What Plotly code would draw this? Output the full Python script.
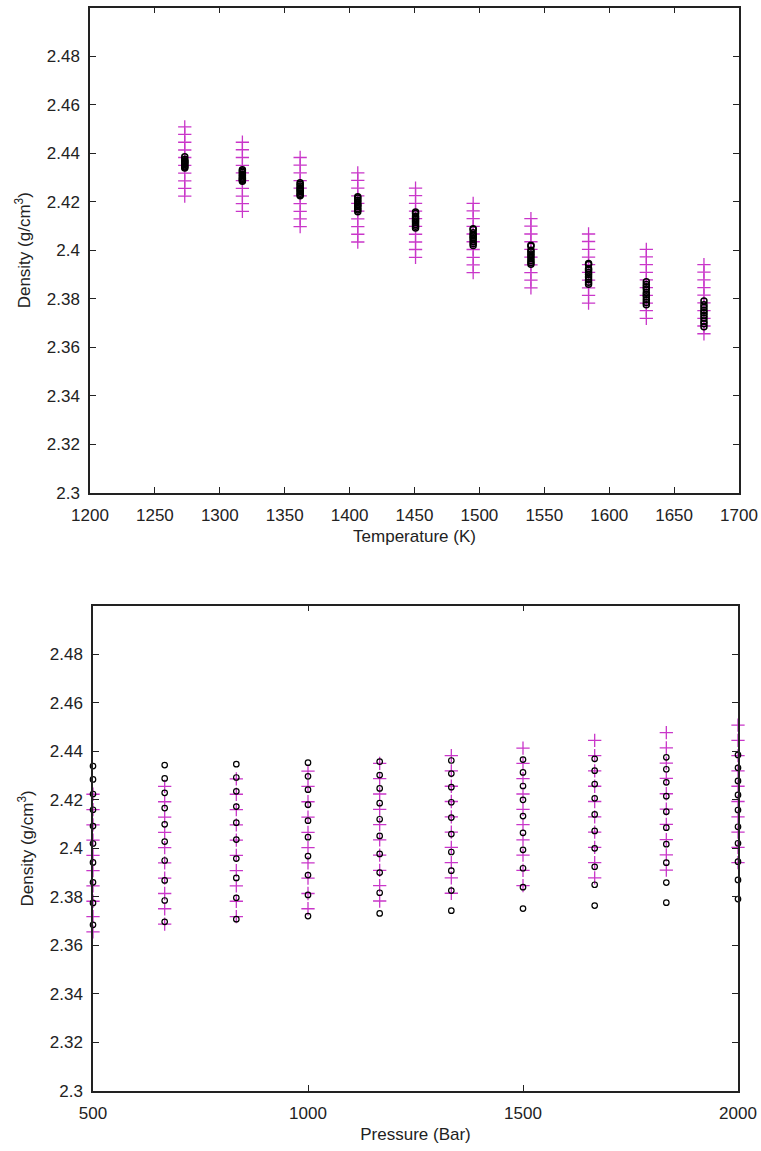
import plotly.graph_objects as go

# ---------------- data ----------------
temperature_K = [1273, 1317.4, 1361.9, 1406.3, 1450.8, 1495.2, 1539.7, 1584.1, 1628.6, 1673]
pressure_bar = [500, 666.7, 833.3, 1000, 1166.7, 1333.3, 1500, 1666.7, 1833.3, 2000]

# measured/calculated density (black circles): rows = temperature, columns = pressure
density_black = [
    [2.4339, 2.4343, 2.4347, 2.4353, 2.4357, 2.4362, 2.4366, 2.4369, 2.4375, 2.4385],
    [2.4284, 2.4288, 2.4292, 2.4297, 2.4302, 2.4308, 2.4313, 2.4320, 2.4326, 2.4332],
    [2.4224, 2.4229, 2.4235, 2.4242, 2.4247, 2.4252, 2.4257, 2.4265, 2.4272, 2.4278],
    [2.4159, 2.4166, 2.4172, 2.4180, 2.4186, 2.4190, 2.4200, 2.4206, 2.4215, 2.4220],
    [2.4092, 2.4099, 2.4106, 2.4114, 2.4120, 2.4127, 2.4133, 2.4140, 2.4151, 2.4158],
    [2.4020, 2.4028, 2.4036, 2.4046, 2.4051, 2.4059, 2.4064, 2.4072, 2.4085, 2.4089],
    [2.3942, 2.3950, 2.3958, 2.3968, 2.3977, 2.3985, 2.3994, 2.4000, 2.4017, 2.4021],
    [2.3860, 2.3868, 2.3878, 2.3890, 2.3900, 2.3908, 2.3918, 2.3924, 2.3941, 2.3945],
    [2.3775, 2.3785, 2.3796, 2.3808, 2.3817, 2.3826, 2.3840, 2.3850, 2.3859, 2.3870],
    [2.3685, 2.3697, 2.3708, 2.3721, 2.3732, 2.3743, 2.3752, 2.3764, 2.3776, 2.3791],
]

# model density (magenta crosses): rows = temperature, columns = pressure
density_magenta = [
    [2.4223, 2.4255, 2.4286, 2.4318, 2.4350, 2.4382, 2.4413, 2.4445, 2.4477, 2.4508],
    [2.4160, 2.4192, 2.4223, 2.4255, 2.4287, 2.4319, 2.4350, 2.4382, 2.4414, 2.4445],
    [2.4097, 2.4129, 2.4160, 2.4192, 2.4224, 2.4256, 2.4287, 2.4319, 2.4351, 2.4382],
    [2.4034, 2.4066, 2.4097, 2.4129, 2.4161, 2.4193, 2.4224, 2.4256, 2.4288, 2.4319],
    [2.3971, 2.4003, 2.4034, 2.4066, 2.4098, 2.4130, 2.4161, 2.4193, 2.4225, 2.4256],
    [2.3908, 2.3940, 2.3971, 2.4003, 2.4035, 2.4067, 2.4098, 2.4130, 2.4162, 2.4193],
    [2.3845, 2.3877, 2.3908, 2.3940, 2.3972, 2.4004, 2.4035, 2.4067, 2.4099, 2.4130],
    [2.3782, 2.3814, 2.3845, 2.3877, 2.3909, 2.3941, 2.3972, 2.4004, 2.4036, 2.4067],
    [2.3719, 2.3751, 2.3782, 2.3814, 2.3846, 2.3878, 2.3909, 2.3941, 2.3973, 2.4004],
    [2.3656, 2.3688, 2.3719, 2.3751, 2.3783, 2.3815, 2.3846, 2.3878, 2.3910, 2.3941],
]

y_ticks = [2.3, 2.32, 2.34, 2.36, 2.38, 2.4, 2.42, 2.44, 2.46, 2.48]
y_ticktext = ["2.3", "2.32", "2.34", "2.36", "2.38", "2.4", "2.42", "2.44", "2.46", "2.48"]
t_ticks = [1200, 1250, 1300, 1350, 1400, 1450, 1500, 1550, 1600, 1650, 1700]
p_ticks = [500, 1000, 1500, 2000]

# ---------------- styling ----------------
W, H = 761, 1151
MAG = "#c936c9"
FONT = "Liberation Sans, Arial, sans-serif"
FS = 17

fig = go.Figure()

# top: density vs temperature
xs_m, ys_m, xs_b, ys_b = [], [], [], []
for i, T in enumerate(temperature_K):
    for j in range(len(pressure_bar)):
        xs_m.append(T); ys_m.append(density_magenta[i][j])
        xs_b.append(T); ys_b.append(density_black[i][j])
fig.add_trace(go.Scatter(x=xs_m, y=ys_m, mode="markers", xaxis="x", yaxis="y",
                         marker=dict(symbol="cross-thin-open", size=9.5, color=MAG,
                                     line=dict(color=MAG, width=1.3)), showlegend=False))
fig.add_trace(go.Scatter(x=xs_b, y=ys_b, mode="markers", xaxis="x", yaxis="y",
                         marker=dict(symbol="circle-open", size=6, color="black",
                                     line=dict(color="black", width=1.5)), showlegend=False))

# bottom: density vs pressure
xs_m, ys_m, xs_b, ys_b = [], [], [], []
for j, P in enumerate(pressure_bar):
    for i in range(len(temperature_K)):
        xs_m.append(P); ys_m.append(density_magenta[i][j])
        xs_b.append(P); ys_b.append(density_black[i][j])
fig.add_trace(go.Scatter(x=xs_m, y=ys_m, mode="markers", xaxis="x2", yaxis="y2",
                         marker=dict(symbol="cross-thin-open", size=9.5, color=MAG,
                                     line=dict(color=MAG, width=1.3)), showlegend=False, cliponaxis=False))
fig.add_trace(go.Scatter(x=xs_b, y=ys_b, mode="markers", xaxis="x2", yaxis="y2",
                         marker=dict(symbol="circle-open", size=5.5, color="black",
                                     line=dict(color="black", width=1.2)), showlegend=False, cliponaxis=False))

title_font = dict(family=FONT, size=FS, color="#222")
axis_common = dict(showline=True, linecolor="#222", linewidth=1.5, mirror="ticks",
                   ticks="inside", ticklen=6, tickwidth=1.2, tickcolor="#222",
                   showgrid=False, zeroline=False, automargin=False,
                   tickfont=dict(family=FONT, size=FS, color="#222"))

# panel pixel boxes
top_l, top_r, top_t, top_b = 90, 739, 7.5, 493
bot_l, bot_r, bot_t, bot_b = 93, 738, 605.7, 1091

ytitle = "Density (g/cm<sup>3</sup>)"

fig.update_layout(
    width=W, height=H, margin=dict(l=0, r=0, t=0, b=0),
    paper_bgcolor="white", plot_bgcolor="white",
    xaxis=dict(domain=[top_l / W, top_r / W], anchor="y", range=[1200, 1700],
               tickvals=t_ticks, ticklabelstandoff=6,
               title=dict(text="Temperature (K)", font=title_font, standoff=6), **axis_common),
    yaxis=dict(domain=[1 - top_b / H, 1 - top_t / H], anchor="x", range=[2.3, 2.5],
               tickvals=y_ticks, ticktext=y_ticktext, ticklabelstandoff=5,
               title=dict(text=ytitle, font=title_font, standoff=12), **axis_common),
    xaxis2=dict(domain=[bot_l / W, bot_r / W], anchor="y2", range=[500, 2000],
                tickvals=p_ticks, ticklabelstandoff=6,
                title=dict(text="Pressure (Bar)", font=title_font, standoff=6), **axis_common),
    yaxis2=dict(domain=[1 - bot_b / H, 1 - bot_t / H], anchor="x2", range=[2.3, 2.5],
                tickvals=y_ticks, ticktext=y_ticktext, ticklabelstandoff=5,
                title=dict(text=ytitle, font=title_font, standoff=12), **axis_common),
)

fig.write_html("out.html")
